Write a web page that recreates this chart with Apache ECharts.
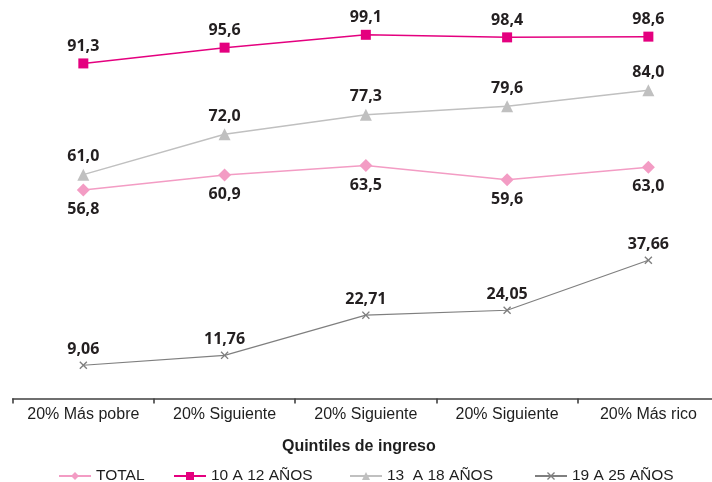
<!DOCTYPE html>
<html>
<head>
<meta charset="utf-8">
<script src="https://cdn.jsdelivr.net/npm/echarts@6/dist/echarts.min.js"></script>
<style>html,body{margin:0;padding:0;background:#fff;overflow:hidden;width:712px;height:482px;}#c{width:719px;height:482px;}</style>
</head>
<body>
<div id="c"></div>
<script>
const categories = ['20% Más pobre', '20% Siguiente', '20% Siguiente', '20% Siguiente', '20% Más rico'];
const seriesNames = ['TOTAL', '10 A 12 AÑOS', '13  A 18 AÑOS', '19 A 25 AÑOS'];
const total = [56.8, 60.9, 63.5, 59.6, 63.0];
const age10to12 = [91.3, 95.6, 99.1, 98.4, 98.6];
const age13to18 = [61.0, 72.0, 77.3, 79.6, 84.0];
const age19to25 = [9.06, 11.76, 22.71, 24.05, 37.66];
const axisTitle = 'Quintiles de ingreso';

const crossPath = 'path://M0,1.2L1.2,0L5,3.8L8.8,0L10,1.2L6.2,5L10,8.8L8.8,10L5,6.2L1.2,10L0,8.8L3.8,5Z';

function fmt(d) { return function (p) { return p.value.toFixed(d).replace('.', ','); }; }
const labelBase = { show: true, fontFamily: 'Open Sans', fontWeight: 'bold', fontSize: 16, color: '#231f20' };
const legendText = { fontFamily: 'Liberation Sans', fontSize: 15.5, color: '#1e1e1e' };
const legendLefts = [53, 168, 344, 529];

const chart = echarts.init(document.getElementById('c'), null, { renderer: 'canvas' });
chart.setOption({
  animation: false,
  backgroundColor: '#fff',
  grid: { left: 12.7, right: 0, top: 31.5, height: 367, containLabel: false },
  xAxis: {
    type: 'category',
    data: categories,
    boundaryGap: true,
    axisLine: { lineStyle: { color: '#404040', width: 1.6 } },
    axisTick: { show: true, interval: 0, length: 5, lineStyle: { color: '#404040', width: 1.6 } },
    axisLabel: { interval: 0, margin: 8, fontFamily: 'Liberation Sans', fontSize: 16, color: '#1e1e1e' },
    name: axisTitle,
    nameLocation: 'middle',
    nameGap: 40,
    nameTextStyle: { fontFamily: 'Liberation Sans', fontWeight: 'bold', fontSize: 16, color: '#1e1e1e', padding: [0, 0, 0, -14] }
  },
  yAxis: { type: 'value', min: 0, max: 100, show: false, splitLine: { show: false } },
  legend: seriesNames.map(function (n, i) {
    return { top: 463, left: legendLefts[i], itemWidth: 32, itemHeight: 10, itemGap: 5,
      textStyle: legendText, data: [n] };
  }),
  series: [
    { name: seriesNames[0], type: 'line', data: total, symbol: 'diamond', symbolSize: 13,
      itemStyle: { color: '#f39cc4' }, lineStyle: { color: '#f39cc4', width: 1.5 },
      label: Object.assign({}, labelBase, { position: 'bottom', distance: 5, formatter: fmt(1) }) },
    { name: seriesNames[1], type: 'line', data: age10to12, symbol: 'rect', symbolSize: 10,
      itemStyle: { color: '#e4007f' }, lineStyle: { color: '#e4007f', width: 1.5 },
      label: Object.assign({}, labelBase, { position: 'top', distance: 4, formatter: fmt(1) }) },
    { name: seriesNames[2], type: 'line', data: age13to18, symbol: 'triangle', symbolSize: 12,
      itemStyle: { color: '#c0c0c0' }, lineStyle: { color: '#c0c0c0', width: 1.5 },
      label: Object.assign({}, labelBase, { position: 'top', distance: 4, formatter: fmt(1) }) },
    { name: seriesNames[3], type: 'line', data: age19to25, symbol: crossPath, symbolSize: 8,
      itemStyle: { color: '#7f7f7f' }, lineStyle: { color: '#7f7f7f', width: 1.2 },
      label: Object.assign({}, labelBase, { position: 'top', distance: 4, formatter: fmt(2) }) }
  ]
});
</script>
</body>
</html>
